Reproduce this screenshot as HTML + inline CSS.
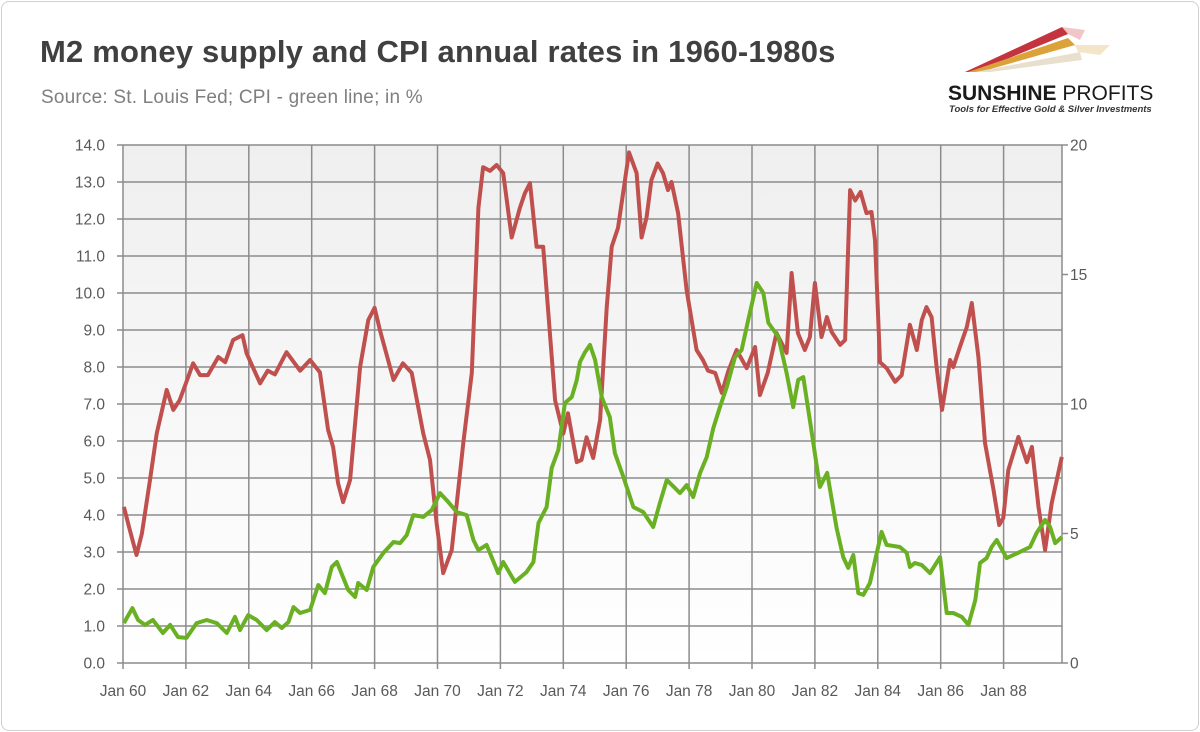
<!DOCTYPE html>
<html><head><meta charset="utf-8"><style>
body{margin:0;width:1200px;height:732px;background:#fff;font-family:"Liberation Sans",sans-serif;overflow:hidden}
#frame{position:absolute;left:1px;top:1px;width:1196px;height:728px;border:1px solid #d0d0d0;border-radius:8px}
#title{position:absolute;left:40px;top:34px;font-size:31px;font-weight:bold;color:#404040;letter-spacing:0.2px}
#sub{position:absolute;left:41px;top:87px;font-size:19px;color:#7f7f7f;letter-spacing:0.2px}
svg{position:absolute;left:0;top:0}
</style></head><body>
<div id="frame"></div>
<div id="title">M2 money supply and CPI annual rates in 1960-1980s</div>
<div id="sub">Source: St. Louis Fed; CPI - green line; in %</div>
<svg width="1200" height="732" id="chart">
<defs><linearGradient id="bg" x1="0" y1="0" x2="0" y2="1"><stop offset="0" stop-color="#efefef"/><stop offset="1" stop-color="#ffffff"/></linearGradient></defs>
<g>
<polygon points="965,72 1062,27 1068,34 975,72" fill="#c4343f"/>
<polygon points="1062,27 1085,30 1080,40 1068,34" fill="#e8a0a0" opacity="0.6"/>
<polygon points="968,72 1068,38 1075,45 980,72" fill="#dba23a"/>
<polygon points="1075,45 1110,45 1100,55 1078,52" fill="#ecd4a4" opacity="0.6"/>
<polygon points="975,72 1080,52 1082,60 990,72" fill="#e8e0cc"/>
<text x="948" y="100" font-size="21" font-weight="bold" fill="#1a1a1a">SUNSHINE <tspan font-weight="normal">PROFITS</tspan></text>
<text x="949" y="112" font-size="9.5" font-weight="bold" font-style="italic" fill="#333">Tools for Effective Gold &amp; Silver Investments</text>
</g>
<rect x="123" y="145" width="939" height="518" fill="url(#bg)"/>
<g id="grid"></g><g id="axes"></g><g id="series"></g>
</svg>
<script>
const redT=[1960.03,1960.2,1960.43,1960.6,1960.86,1961.07,1961.39,1961.6,1961.8,1962.0,1962.23,1962.45,1962.7,1963.03,1963.25,1963.5,1963.8,1963.93,1964.36,1964.6,1964.83,1965.2,1965.63,1965.95,1966.26,1966.52,1966.68,1966.84,1967.0,1967.22,1967.54,1967.8,1968.0,1968.17,1968.6,1968.9,1969.18,1969.55,1969.76,1969.97,1970.18,1970.45,1970.82,1971.09,1971.3,1971.45,1971.67,1971.88,1972.09,1972.36,1972.62,1972.78,1972.94,1973.15,1973.36,1973.74,1974.0,1974.15,1974.43,1974.58,1974.74,1974.95,1975.17,1975.38,1975.54,1975.74,1975.9,1976.09,1976.33,1976.49,1976.65,1976.8,1977.0,1977.17,1977.33,1977.44,1977.65,1977.92,1978.24,1978.44,1978.6,1978.83,1979.04,1979.25,1979.51,1979.83,1980.1,1980.25,1980.5,1980.78,1981.1,1981.26,1981.46,1981.68,1981.84,1982.0,1982.21,1982.38,1982.53,1982.8,1982.96,1983.12,1983.28,1983.45,1983.64,1983.8,1983.91,1984.07,1984.28,1984.55,1984.76,1985.02,1985.24,1985.4,1985.55,1985.71,1985.87,1986.04,1986.3,1986.4,1986.61,1986.83,1986.99,1987.2,1987.41,1987.68,1987.86,1987.99,1988.15,1988.47,1988.74,1988.9,1989.11,1989.32,1989.53,1989.85];
const redV=[4.22,3.65,2.92,3.5,4.95,6.2,7.38,6.84,7.1,7.56,8.1,7.78,7.78,8.27,8.13,8.73,8.86,8.37,7.56,7.9,7.8,8.4,7.9,8.19,7.86,6.3,5.84,4.86,4.35,4.95,8.0,9.27,9.6,9.0,7.65,8.1,7.84,6.2,5.49,3.78,2.43,3.05,5.95,7.84,12.3,13.4,13.3,13.46,13.24,11.5,12.3,12.7,12.97,11.25,11.25,7.1,6.2,6.75,5.43,5.49,6.1,5.54,6.57,9.6,11.25,11.76,12.7,13.8,13.24,11.5,12.05,13.05,13.5,13.24,12.78,13.0,12.16,10.08,8.46,8.19,7.9,7.84,7.3,7.9,8.46,7.97,8.54,7.24,7.84,8.92,8.38,10.54,8.92,8.46,8.81,10.27,8.81,9.35,8.95,8.6,8.73,12.78,12.5,12.73,12.16,12.19,11.43,8.13,7.97,7.6,7.78,9.14,8.46,9.27,9.62,9.35,8.0,6.84,8.19,8.0,8.54,9.08,9.73,8.27,5.95,4.68,3.73,3.92,5.22,6.11,5.43,5.84,4.22,3.05,4.32,5.57];
const grnT=[1960.03,1960.3,1960.48,1960.7,1960.95,1961.27,1961.5,1961.75,1962.02,1962.34,1962.66,1962.98,1963.3,1963.56,1963.72,1963.98,1964.25,1964.57,1964.83,1965.05,1965.26,1965.42,1965.63,1965.95,1966.21,1966.42,1966.64,1966.8,1967.16,1967.38,1967.48,1967.75,1967.96,1968.28,1968.6,1968.81,1969.02,1969.23,1969.55,1969.82,1970.08,1970.34,1970.61,1970.93,1971.14,1971.3,1971.56,1971.93,1972.09,1972.46,1972.83,1973.05,1973.21,1973.47,1973.63,1973.84,1974.05,1974.27,1974.43,1974.53,1974.69,1974.85,1975.01,1975.22,1975.48,1975.64,1975.91,1976.23,1976.54,1976.86,1977.07,1977.29,1977.71,1977.92,1978.13,1978.35,1978.56,1978.77,1978.98,1979.2,1979.46,1979.67,1979.88,1980.15,1980.36,1980.52,1980.84,1981.1,1981.31,1981.47,1981.63,1981.9,1982.16,1982.39,1982.69,1982.9,1983.06,1983.22,1983.38,1983.54,1983.75,1984.12,1984.28,1984.7,1984.92,1985.02,1985.18,1985.4,1985.66,1985.98,1986.19,1986.4,1986.67,1986.88,1987.1,1987.25,1987.46,1987.62,1987.78,1988.1,1988.31,1988.52,1988.84,1989.05,1989.32,1989.48,1989.64,1989.85];
const grnV=[1.54,2.12,1.66,1.47,1.66,1.16,1.47,1.0,0.97,1.54,1.66,1.54,1.16,1.78,1.27,1.85,1.66,1.27,1.58,1.35,1.58,2.16,1.93,2.05,3.01,2.7,3.71,3.9,2.82,2.55,3.09,2.82,3.71,4.25,4.67,4.63,4.94,5.71,5.64,5.91,6.56,6.22,5.83,5.71,4.75,4.36,4.56,3.47,3.9,3.13,3.51,3.9,5.41,6.02,7.53,8.22,10.04,10.27,10.93,11.62,12.0,12.28,11.7,10.27,9.5,8.1,7.18,6.02,5.83,5.25,6.18,7.07,6.56,6.87,6.41,7.34,7.95,9.07,9.88,10.66,11.81,12.08,13.24,14.67,14.29,13.13,12.59,11.2,9.88,10.93,11.04,8.88,6.8,7.34,5.21,4.09,3.67,4.17,2.7,2.63,3.09,5.06,4.56,4.48,4.25,3.71,3.86,3.78,3.47,4.09,1.93,1.93,1.78,1.47,2.43,3.86,4.05,4.48,4.75,4.05,4.17,4.29,4.48,5.02,5.52,5.25,4.63,4.86];
const leftTicks=[0,1,2,3,4,5,6,7,8,9,10,11,12,13,14];
const rightTicks=[0,5,10,15,20];
const xTickYears=[1960,1962,1964,1966,1968,1970,1972,1974,1976,1978,1980,1982,1984,1986,1988];
const xTickLabels=["Jan 60","Jan 62","Jan 64","Jan 66","Jan 68","Jan 70","Jan 72","Jan 74","Jan 76","Jan 78","Jan 80","Jan 82","Jan 84","Jan 86","Jan 88"];
const X0=123,X1=1062,Y0=663,Y1=145;
const xs=t=>X0+(t-1960)*31.45;
const yl=v=>Y0-(v/14)*(Y0-Y1);
const yr=v=>Y0-(v/20)*(Y0-Y1);
const NS="http://www.w3.org/2000/svg";
function mk(tag,parent,attrs){const e=document.createElementNS(NS,tag);for(const k in attrs)e.setAttribute(k,attrs[k]);parent.appendChild(e);return e;}
const grid=document.getElementById('grid'),axes=document.getElementById('axes'),ser=document.getElementById('series');
leftTicks.forEach(v=>{const y=yl(v);
 const l=mk('line',grid,{x1:X0-6,x2:X1,y1:y,y2:y,stroke:'#8c8c8c','stroke-width':1.5});
 
 
 const t=mk('text',axes,{x:105,y:y+5.5,'text-anchor':'end','font-size':15.5,fill:'#595959'});t.textContent=v.toFixed(1);
 
 });
xTickYears.forEach((yr0,i)=>{const x=xs(yr0);
 const l=mk('line',grid,{x1:x,x2:x,y1:Y1,y2:Y0+6,stroke:'#8c8c8c','stroke-width':1.5});
 
 
 const t=mk('text',axes,{x:x,y:696,'text-anchor':'middle','font-size':15.5,fill:'#595959'});t.textContent=xTickLabels[i];
 
 });
const ra=mk('line',axes,{x1:X1,x2:X1,y1:Y1,y2:Y0,stroke:'#8c8c8c','stroke-width':1.5});


rightTicks.forEach(v=>{const y=yr(v);
 mk('line',axes,{x1:X1,x2:X1+6,y1:y,y2:y,stroke:'#8c8c8c','stroke-width':1.5});
 const t=mk('text',axes,{x:1070,y:y+5.5,'font-size':15.5,fill:'#595959'});t.textContent=v;
 
 });
function path(T,V,yf){return T.map((t,i)=>(i?'L':'M')+xs(t).toFixed(1)+','+yf(V[i]).toFixed(1)).join(' ');}
const r=mk('path',ser,{d:path(redT,redV,yl),fill:'none',stroke:'#c0504d','stroke-width':4,'stroke-linejoin':'round'});


const g=mk('path',ser,{d:path(grnT,grnV,yr),fill:'none',stroke:'#6ab023','stroke-width':4,'stroke-linejoin':'round'});


</script>
</body></html>
